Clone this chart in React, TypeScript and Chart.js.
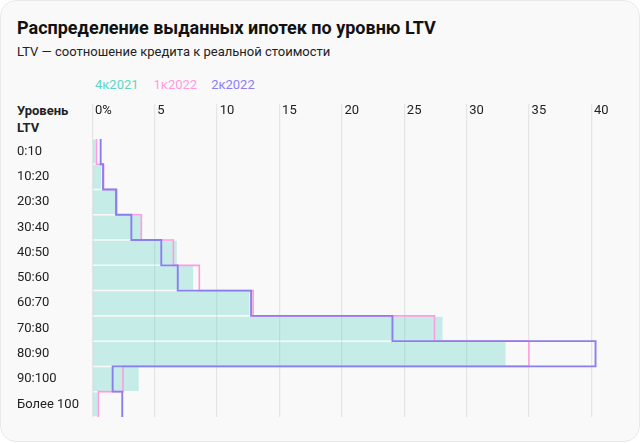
import React, { useEffect, useRef } from "react";
import { Chart, registerables } from "chart.js";

Chart.register(...registerables);

const categories = ["0:10", "10:20", "20:30", "30:40", "40:50", "50:60", "60:70", "70:80", "80:90", "90:100", "Более 100"];
const q4_2021 = [0.25, 0.72, 1.85, 3.9, 6.77, 8.08, 12.6, 28.07, 33.12, 3.72, 0.4];
const q1_2022 = [0.33, 0.91, 1.97, 3.93, 6.5, 8.58, 12.89, 27.43, 35.0, 2.46, 0.48];
const q2_2022 = [0.67, 0.86, 1.9, 3.13, 5.53, 6.85, 12.73, 24.06, 40.34, 1.63, 2.4];
const seriesNames = ["4к2021", "1к2022", "2к2022"];
const xTicks = [0, 5, 10, 15, 20, 25, 30, 35, 40];

const TEAL_TEXT = "#5fd4c6";
const PINK = "#ff9be0";
const PURPLE = "#8b7ff0";
const FONT = "Roboto, 'Noto Sans', sans-serif";

function stepPoints(values: number[]) {
  const pts: { x: number; y: number }[] = [];
  values.forEach((v, i) => {
    pts.push({ x: v, y: i - 0.5 });
    pts.push({ x: v, y: i + 0.5 });
  });
  return pts;
}

function ChartBox() {
  const ref = useRef<HTMLCanvasElement | null>(null);
  useEffect(() => {
    if (!ref.current) return;
    const chart = new Chart(ref.current, {
      type: "bar",
      data: {
        datasets: [
          {
            type: "scatter" as any,
            label: seriesNames[2],
            data: stepPoints(q2_2022),
            showLine: true,
            borderColor: PURPLE,
            borderWidth: 1.9,
            pointRadius: 0,
            borderJoinStyle: "miter",
            clip: false,
            xAxisID: "x",
            yAxisID: "y",
            order: 0,
          } as any,
          {
            type: "scatter" as any,
            label: seriesNames[1],
            data: stepPoints(q1_2022),
            showLine: true,
            borderColor: PINK,
            borderWidth: 1.6,
            pointRadius: 0,
            borderJoinStyle: "miter",
            clip: false,
            xAxisID: "x",
            yAxisID: "y",
            order: 1,
          } as any,
          {
            type: "bar",
            label: seriesNames[0],
            data: q4_2021.map((v, i) => ({ x: v, y: i })),
            backgroundColor: "rgba(79, 206, 192, 0.3)",
            borderWidth: 0,
            barPercentage: 1,
            categoryPercentage: 0.94,
            grouped: false,
            xAxisID: "x",
            yAxisID: "y",
            order: 2,
          } as any,
        ],
      },
      options: {
        indexAxis: "y",
        animation: false,
        responsive: true,
        maintainAspectRatio: false,
        layout: { padding: { left: 17, right: 48.7, top: 0, bottom: 0 } },
        plugins: { legend: { display: false }, tooltip: { enabled: false }, title: { display: false } },
        scales: {
          x: {
            type: "linear",
            position: "top",
            min: 0,
            max: 40,
            offset: false,
            afterBuildTicks: (axis: any) => {
              axis.ticks = xTicks.map((v) => ({ value: v }));
            },
            afterFit: (axis: any) => {
              axis.height = 35;
            },
            grid: { color: "#e6e6e6", lineWidth: 1.3, tickLength: 35, drawTicks: true, tickColor: "#e6e6e6", tickWidth: 1.3, offset: false },
            border: { display: false },
            ticks: {
              align: "start",
              padding: -14.4,
              color: "#222",
              font: { family: FONT, size: 13 },
              callback: (v: any) => (Number(v) === 0 ? "\u20090%" : "\u2009" + v),
            },
          },
          y: {
            type: "linear",
            position: "left",
            min: -0.5,
            max: 10.5,
            reverse: true,
            offset: false,
            afterBuildTicks: (axis: any) => {
              axis.ticks = categories.map((_, i) => ({ value: i }));
            },
            afterFit: (axis: any) => {
              axis.width = 75.3;
            },
            grid: { display: false, offset: false },
            border: { display: false },
            ticks: {
              crossAlign: "far",
              color: "#222",
              font: { family: FONT, size: 13, lineHeight: 0.01 },
              padding: 0,
              callback: (v: any) => categories[Number(v)] ?? "",
            },
          },
        },
      } as any,
    });
    return () => chart.destroy();
  }, []);
  return <canvas ref={ref} />;
}

export default function App() {
  useEffect(() => {
    document.body.style.margin = "0";
  }, []);
  return (
    <div
      style={{
        position: "fixed",
        left: 0,
        top: 0,
        width: 640,
        height: 442,
        boxSizing: "border-box",
        border: "1px solid #e9e9e9",
        borderRadius: 16,
        background: "#f9f9f9",
        fontFamily: FONT,
        overflow: "hidden",
      }}
    >
      <div style={{ position: "absolute", left: 16, top: 15, fontSize: 18, fontWeight: 700, color: "#111", lineHeight: "24px", whiteSpace: "nowrap" }}>
        Распределение выданных ипотек по уровню LTV
      </div>
      <div style={{ position: "absolute", left: 16, top: 41, fontSize: 13, color: "#222", lineHeight: "20px", whiteSpace: "nowrap" }}>
        LTV — соотношение кредита к реальной стоимости
      </div>
      <div style={{ position: "absolute", left: 94, top: 74, fontSize: 13, lineHeight: "20px", whiteSpace: "nowrap" }}>
        <span style={{ color: TEAL_TEXT }}>{seriesNames[0]}</span>
        <span style={{ color: PINK, marginLeft: 15 }}>{seriesNames[1]}</span>
        <span style={{ color: PURPLE, marginLeft: 14 }}>{seriesNames[2]}</span>
      </div>
      <div style={{ position: "absolute", left: 16, top: 102, fontSize: 13, fontWeight: 700, color: "#222", lineHeight: "16.5px" }}>
        Уровень
        <br />
        LTV
      </div>
      <div style={{ position: "absolute", left: -1, top: 103, width: 640, height: 313 }}>
        <ChartBox />
      </div>
    </div>
  );
}
